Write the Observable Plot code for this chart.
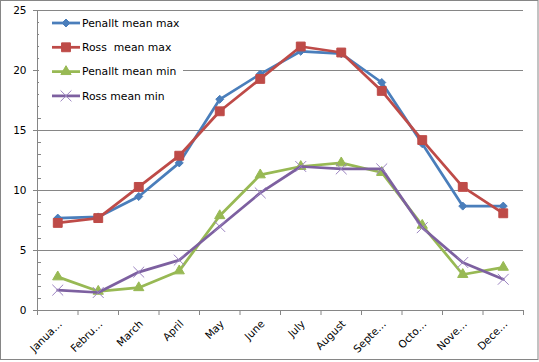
<!DOCTYPE html>
<html><head><meta charset="utf-8">
<script src="https://cdn.jsdelivr.net/npm/d3@7"></script>
<script src="https://cdn.jsdelivr.net/npm/@observablehq/plot@0.6"></script>
<style>
body{margin:0;background:#fff}
#chart{position:relative;width:539px;height:362px}
</style>
</head><body><div id="chart"></div>
<script>
const months = ["January","February","March","April","May","June","July","August","September","October","November","December"];
const tickLabels = ["Janua…","Febru…","March","April","May","June","July","August","Septe…","Octo…","Nove…","Dece…"];
const seriesNames = ["Penallt mean max","Ross  mean max","Penallt mean min","Ross mean min"];
const penalltMax = [7.7, 7.8, 9.5, 12.3, 17.6, 19.7, 21.6, 21.4, 19.0, 13.9, 8.7, 8.7];
const rossMax    = [7.3, 7.7, 10.3, 12.9, 16.6, 19.3, 22.0, 21.5, 18.3, 14.2, 10.3, 8.1];
const penalltMin = [2.8, 1.6, 1.9, 3.3, 7.9, 11.3, 12.0, 12.3, 11.5, 7.1, 3.0, 3.6];
const rossMin    = [1.7, 1.5, 3.2, 4.2, 7.0, 9.8, 12.0, 11.8, 11.8, 6.9, 4.0, 2.6];
const yMajor = [0, 5, 10, 15, 20, 25];
const yMinor = d3.range(0, 26).filter(v => v % 5 !== 0);

const series = [
  {name: seriesNames[0], values: penalltMax, color: "#4A7EBB", symbol: "diamond2", r: 3.6, fill: true},
  {name: seriesNames[1], values: rossMax, color: "#BE4B48", symbol: "square", r: 5, fill: true},
  {name: seriesNames[2], values: penalltMin, color: "#98B954", symbol: "triangle", r: 3.8, fill: true},
  {name: seriesNames[3], values: rossMin, color: "#7D60A0", symbol: "times", r: 5, fill: false}
];
const gray = "#868686";
const xi = (d, i) => i + 0.5;

const seriesMarks = series.flatMap(s => [
  Plot.line(months, {x: xi, y: (d, i) => s.values[i], stroke: s.color, strokeWidth: 2.75, strokeLinejoin: "round"}),
  Plot.dot(months, {x: xi, y: (d, i) => s.values[i], symbol: s.symbol, r: s.r,
    fill: s.fill ? s.color : "none", stroke: s.fill ? s.color : "#9a82c0", strokeWidth: 1})
]);

const plot = Plot.plot({
  width: 539, height: 362,
  marginLeft: 37, marginRight: 16, marginTop: 10, marginBottom: 52,
  style: {fontFamily: "DejaVu Sans", fontSize: "10px", color: "#000", background: "#fff"},
  x: {domain: [0, 12], axis: null},
  y: {domain: [0, 25], axis: null},
  marks: [
    Plot.gridY(yMajor.filter(v => v > 0), {stroke: gray, strokeOpacity: 1}),
    Plot.axisY(yMajor, {tickSize: 4, tickPadding: 7, stroke: gray, fill: "#000", fontSize: 10.5, label: null}),
    Plot.axisY(yMinor, {tickSize: 4, dx: 4, tickFormat: () => "", stroke: gray, label: null}),
    Plot.axisX(d3.range(13), {tickSize: 5, tickFormat: () => "", stroke: gray, label: null}),
    Plot.ruleX([0], {stroke: gray}),
    Plot.ruleY([0], {stroke: gray}),
    Plot.text(months, {x: xi, frameAnchor: "bottom", text: (d, i) => tickLabels[i], rotate: -45,
      textAnchor: "end", dx: 5, dy: 14, fontSize: 10.5, fill: "#000"}),
    ...seriesMarks
  ]
});

const svg = d3.select(plot);
// legend
const lg = svg.append("g").attr("font-family", "DejaVu Sans").attr("font-size", 10.8).attr("text-anchor", "start");
lg.append("rect").attr("x", 39).attr("y", 12).attr("width", 144).attr("height", 96).attr("fill", "#fff");
series.forEach((s, i) => {
  const y = 23 + 24.3 * i;
  lg.append("line").attr("x1", 52).attr("x2", 80).attr("y1", y).attr("y2", y)
    .attr("stroke", s.color).attr("stroke-width", 2.75);
  const typ = {diamond2: d3.symbolDiamond2, square: d3.symbolSquare, triangle: d3.symbolTriangle, times: d3.symbolTimes}[s.symbol];
  lg.append("path").attr("transform", `translate(66,${y})`)
    .attr("d", d3.symbol(typ, Math.PI * s.r * s.r)())
    .attr("fill", s.fill ? s.color : "none").attr("stroke", s.fill ? s.color : "#9a82c0");
  lg.append("text").attr("x", 82).attr("y", y).attr("dy", "0.35em").attr("fill", "#000")
    .attr("text-anchor", "start").style("white-space", "pre").text(s.name);
});
// outer border
svg.append("rect").attr("x", 0.5).attr("y", 0.5).attr("width", 537.5).attr("height", 359)
  .attr("fill", "none").attr("stroke", gray);

document.getElementById("chart").appendChild(plot);
</script>
</body></html>
